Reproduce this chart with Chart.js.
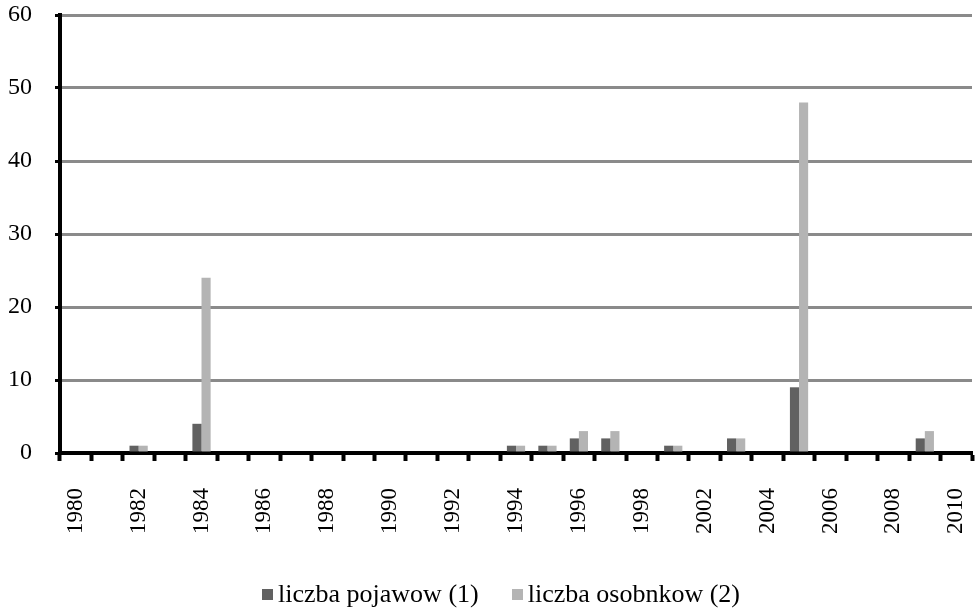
<!DOCTYPE html>
<html>
<head>
<meta charset="utf-8">
<script src="https://cdn.jsdelivr.net/npm/chart.js@4/dist/chart.umd.min.js"></script>
<style>
  html, body { margin: 0; padding: 0; background: #fff; }
  #wrap { position: relative; width: 976px; height: 612px; }
  #legend {
    position: absolute; left: 262px; top: 578px;
    display: flex; align-items: center;
    font-family: 'Liberation Serif', serif; font-size: 26px; line-height: 32px; color: #000;
  }
  .legend-item { display: flex; align-items: center; margin-right: 33px; }
  .legend-color { width: 11px; height: 11px; margin-right: 5px; }
</style>
</head>
<body>
<div id="wrap">
  <canvas id="chart" width="976" height="612"></canvas>
  <div id="legend"></div>
</div>
<script>
// kategorie (lata) - etykiety pokazywane co druga
const years = [
  "1980", "1981", "1982", "1983", "1984", "1985", "1986", "1987", "1988", "1989",
  "1990", "1991", "1992", "1993", "1994", "1995", "1996", "1997", "1998", "2000",
  "2002", "2003", "2004", "2005", "2006", "2007", "2008", "2009", "2010"
];

// liczba pojawow (1)
const pojawy = [
  0, 0, 1, 0, 4, 0, 0, 0, 0, 0,
  0, 0, 0, 0, 1, 1, 2, 2, 0, 1,
  0, 2, 0, 9, 0, 0, 0, 2, 0
];

// liczba osobnkow (2)
const osobniki = [
  0, 0, 1, 0, 24, 0, 0, 0, 0, 0,
  0, 0, 0, 0, 1, 1, 3, 3, 0, 1,
  0, 2, 0, 48, 0, 0, 0, 3, 0
];

const yTicks = [0, 10, 20, 30, 40, 50, 60];

const serif = "'Liberation Serif', 'DejaVu Serif', serif";

function drawChart() {
  const ctx = document.getElementById("chart").getContext("2d");
  const chart = new Chart(ctx, {
    type: "bar",
    data: {
      labels: years,
      datasets: [
        {
          label: "liczba pojawow (1)",
          data: pojawy,
          backgroundColor: "#616161",
          borderWidth: 0
        },
        {
          label: "liczba osobnkow (2)",
          data: osobniki,
          backgroundColor: "#b4b4b4",
          borderWidth: 0
        }
      ]
    },
    options: {
      responsive: false,
      animation: false,
      layout: { padding: { top: 15, right: 4, bottom: 0, left: 0 } },
      datasets: {
        bar: { categoryPercentage: 0.58, barPercentage: 1.0 }
      },
      plugins: {
        tooltip: { enabled: false },
        legend: { display: false }
      },
      scales: {
        x: {
          offset: true,
          afterFit: s => { s.height = 159; s.paddingRight = 0; s.paddingLeft = 0; },
          border: { display: true, color: "#000", width: 4 },
          grid: {
            offset: true,
            drawOnChartArea: false,
            drawTicks: true,
            tickLength: 8,
            tickWidth: 4,
            tickColor: "#000"
          },
          ticks: {
            autoSkip: false,
            minRotation: 90,
            maxRotation: 90,
            padding: 27,
            color: "#000",
            font: { family: serif, size: 23 },
            callback: function (value, index) {
              return index % 2 === 0 ? years[index] : "";
            }
          }
        },
        y: {
          min: 0,
          max: 60,
          afterFit: s => { s.width = 60; s.paddingTop = 0; s.paddingBottom = 0; },
          afterBuildTicks: s => { s.ticks = yTicks.map(v => ({ value: v })); },
          border: { display: true, color: "#000", width: 4 },
          grid: {
            color: "#8a8a8a",
            lineWidth: 3,
            drawTicks: true,
            tickLength: 5,
            tickWidth: 3,
            tickColor: "#000"
          },
          ticks: {
            color: "#000",
            padding: 23,
            font: { family: serif, size: 24 }
          }
        }
      }
    }
  });
  buildLegend(chart);
}

// legenda w HTML
function buildLegend(chart) {
  const legendDiv = document.getElementById("legend");
  legendDiv.innerHTML = "";
  chart.data.datasets.forEach(ds => {
    const item = document.createElement("div");
    item.className = "legend-item";

    const colorDiv = document.createElement("div");
    colorDiv.className = "legend-color";
    colorDiv.style.background = ds.backgroundColor;

    const label = document.createElement("div");
    label.textContent = ds.label;

    item.appendChild(colorDiv);
    item.appendChild(label);
    legendDiv.appendChild(item);
  });
}

document.fonts.load("24px 'Liberation Serif'").then(drawChart, drawChart);
</script>
</body>
</html>
